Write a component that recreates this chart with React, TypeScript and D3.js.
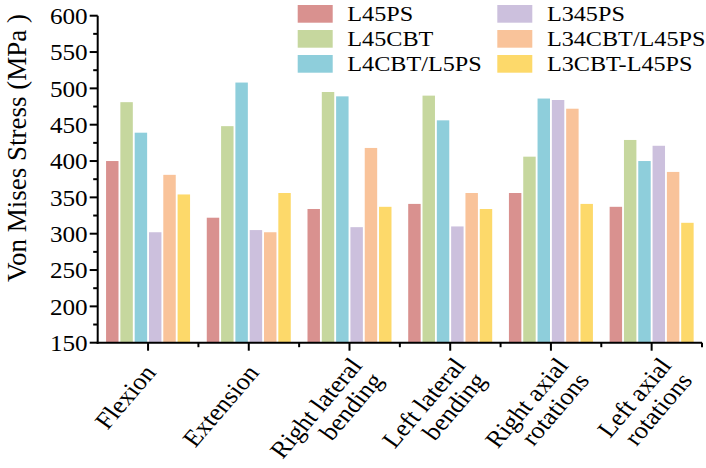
import React from "react";
import * as d3 from "d3";

const categories = [
  ["Flexion"],
  ["Extension"],
  ["Right lateral", "bending"],
  ["Left lateral", "bending"],
  ["Right axial", "rotations"],
  ["Left axial", "rotations"],
];
const seriesNames = ["L45PS", "L45CBT", "L4CBT/L5PS", "L345PS", "L34CBT/L45PS", "L3CBT-L45PS"];
const seriesColors = ["#D9918F", "#C6D79E", "#8ECEDB", "#CCC0DD", "#F9C39A", "#FDD96A"];

const L45PS = [400, 322, 334, 341, 356, 337];
const L45CBT = [481, 448, 495, 490, 406, 429];
const L4CBT_L5PS = [439, 508, 489, 456, 486, 400];
const L345PS = [302, 305, 309, 310, 484, 421];
const L34CBT_L45PS = [381, 302, 418, 356, 472, 385];
const L3CBT_L45PS = [354, 356, 337, 334, 341, 315];
const seriesValues = [L45PS, L45CBT, L4CBT_L5PS, L345PS, L34CBT_L45PS, L3CBT_L45PS];

const yTicks = [150, 200, 250, 300, 350, 400, 450, 500, 550, 600];

const W = 706;
const H = 468;
const left = 97.7;
const right = 702;
const top = 15.7;
const bottom = 342.7;
const FONT = "'Liberation Serif', 'Times New Roman', serif";
const ANGLE = 52;
const SX = 1.1;

export default function App() {
  const x = d3.scaleBand<number>().domain(d3.range(categories.length)).range([left, right]).padding(0);
  const groupW = 84;
  const xs = d3
    .scaleBand<number>()
    .domain(d3.range(seriesNames.length))
    .range([-groupW / 2, groupW / 2])
    .paddingInner(0.13)
    .paddingOuter(0);
  const y = d3.scaleLinear().domain([150, 600]).range([bottom, top]);
  const minorY = d3.range(175, 600, 50);
  const bw = x.bandwidth();

  return (
    <svg width={W} height={H} style={{ position: "absolute", left: 0, top: 0, background: "#fff" }} fontFamily={FONT}>
      <rect width={W} height={H} fill="#fff" />
      {seriesValues.map((vals, si) =>
        vals.map((v, ci) => {
          const cx = (x(ci) as number) + bw / 2;
          return (
            <rect
              key={`${si}-${ci}`}
              x={cx + (xs(si) as number)}
              y={y(v)}
              width={xs.bandwidth()}
              height={bottom - y(v)}
              fill={seriesColors[si]}
            />
          );
        })
      )}
      <line x1={left} x2={left} y1={top} y2={bottom + 1} stroke="#000" strokeWidth={2} />
      {yTicks.map((t) => (
        <g key={t}>
          <line x1={left - 8} x2={left} y1={y(t)} y2={y(t)} stroke="#000" strokeWidth={2} />
          <text
            transform={`translate(${left - 10},${y(t)}) scale(1.05,1)`}
            dy="0.34em"
            textAnchor="end"
            fontSize={24}
            fill="#000"
          >
            {t}
          </text>
        </g>
      ))}
      {minorY.map((t) => (
        <line key={t} x1={left - 4.5} x2={left} y1={y(t)} y2={y(t)} stroke="#000" strokeWidth={2} />
      ))}
      <line x1={left - 1} x2={right} y1={bottom} y2={bottom} stroke="#000" strokeWidth={2} />
      {categories.map((c, i) => {
        const cx = (x(i) as number) + bw / 2;
        const ax = cx + 9 + 2.4 * i;
        const ay = c.length > 1 ? 366 : 373;
        return (
          <g key={i}>
            <line x1={cx} x2={cx} y1={bottom} y2={bottom + 8} stroke="#000" strokeWidth={2} />
            <line x1={(x(i) as number) + bw} x2={(x(i) as number) + bw} y1={bottom} y2={bottom + 4.5} stroke="#000" strokeWidth={2} />
            <g transform={`translate(${ax},${ay}) scale(${SX},1) rotate(${-ANGLE})`}>
              {c.map((line, li) => (
                <text key={li} x={0} y={li * 24} textAnchor="end" fontSize={24} fill="#000">
                  {line}
                </text>
              ))}
            </g>
          </g>
        );
      })}
      <text transform={`translate(26,148) rotate(-90)`} textAnchor="middle" fontSize={27} fill="#000">
        Von Mises Stress (MPa )
      </text>
      {seriesNames.map((n, i) => {
        const col = Math.floor(i / 3);
        const row = i % 3;
        const sx = col === 0 ? 297.7 : 497.3;
        const sy = 5 + row * 25;
        return (
          <g key={n}>
            <rect x={sx} y={sy} width={35} height={17.7} fill={seriesColors[i]} />
            <text transform={`translate(${sx + 49.6},${sy + 15.7}) scale(${SX},1)`} fontSize={22} fill="#000">
              {n}
            </text>
          </g>
        );
      })}
    </svg>
  );
}
